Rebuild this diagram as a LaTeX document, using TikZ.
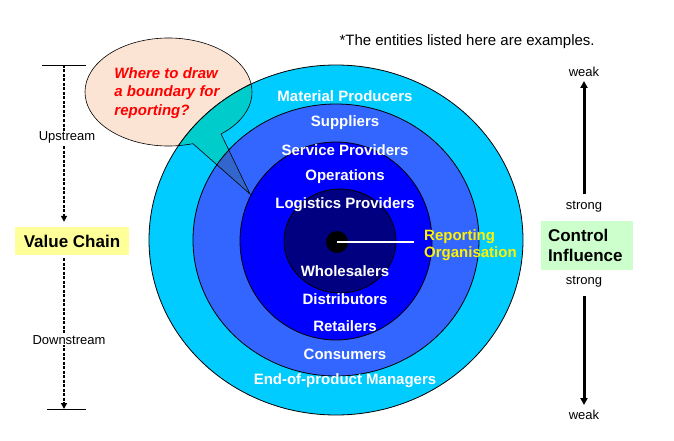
\documentclass[tikz,border=0pt]{standalone}
\usepackage{fontspec}
\setmainfont{Liberation Sans}
\usetikzlibrary{arrows.meta,positioning}

\definecolor{ringcyan}{HTML}{00CCFF}
\definecolor{ringmid}{HTML}{3366FF}
\definecolor{ringblue}{HTML}{0000FF}
\definecolor{ringnavy}{HTML}{000080}
\definecolor{calloutfill}{HTML}{FCE4D4}
\definecolor{overlapcyan}{HTML}{00CCCC}
\definecolor{overlapmid}{HTML}{3366CC}
\definecolor{chainyellow}{HTML}{FFFF99}
\definecolor{influencegreen}{HTML}{CCFFCC}

% callout outline: ellipse with a pointer towards the rings
\def\calloutpath{(168.5,92) ++(73:83.5 and 54)
  arc[start angle=73, end angle=411, x radius=83.5, y radius=54]
  -- (250,194) -- cycle}

\begin{document}
\begin{tikzpicture}[
      x=1pt, y=-1pt, % one unit = one pixel of the original, y downwards
      ring/.style={draw=black, line width=0.8pt},
      ring label/.style={text=white, font=\fontsize{15}{17}\selectfont\bfseries, inner sep=0pt},
      small label/.style={font=\fontsize{13}{15}\selectfont, inner sep=1pt},
      key box/.style={font=\fontsize{17}{20}\selectfont\bfseries, inner sep=0pt},
      chain arrow/.style={line width=1.6pt, dash pattern=on 3pt off 1.5pt,
        -{Triangle[length=6pt,width=6pt]}},
      influence arrow/.style={line width=3pt, -{Triangle[length=7pt,width=7pt]}}
    ]
    \useasboundingbox (0,0) rectangle (674,441);

    % Callout background
    \fill[calloutfill] \calloutpath;

    % Rings, outside in
    \filldraw[ring, fill=ringcyan] (336,240) ellipse [x radius=187, y radius=175];
    \filldraw[ring, fill=ringmid] (336,240) ellipse [x radius=143, y radius=136];
    \filldraw[ring, fill=ringblue] (336,241) ellipse [x radius=96, y radius=99];
    \filldraw[ring, fill=ringnavy] (340,241) ellipse [x radius=56, y radius=52];

    % Where the callout lies over the rings
    \begin{scope}
      \clip \calloutpath;
      \filldraw[ring, fill=overlapcyan] (336,240) ellipse [x radius=187, y radius=175];
      \filldraw[ring, fill=overlapmid] (336,240) ellipse [x radius=143, y radius=136];
    \end{scope}
    \draw[line width=0.6pt] \calloutpath;
    \node[text=red, font=\fontsize{15}{18.5}\selectfont\bfseries\itshape, align=left]
      (question) at (167,93) {Where to draw\\a boundary for\\reporting?};

    % Entities in the rings
    \foreach \txt/\y [count=\i] in {Material Producers/96, Suppliers/123,
        Service Providers/150, Operations/177, Logistics Providers/205,
        Wholesalers/271, Distributors/299, Retailers/326, Consumers/354,
        End-of-product Managers/381} {
      \node[ring label] (ring\i) at (345,\y) {\txt};
    }

    % Reporting organisation at the centre
    \node[circle, fill=black, minimum size=22pt, inner sep=0pt] (org) at (337,242) {};
    \node[text=yellow, font=\fontsize{15}{17}\selectfont\bfseries, align=left,
      inner sep=0pt, anchor=west] (report) at (424,245) {Reporting\\Organisation};
    \draw[white, line width=1.2pt, shorten >=10pt] (org.center) -- (org.center -| report.west);

    \node[font=\fontsize{15}{17}\selectfont, anchor=west] (note) at (336,42)
      {*The entities listed here are examples.};

    % Value chain, left
    \coordinate (vtop) at (64,65);
    \coordinate (vbottom) at (64,409);
    \node[key box, fill=chainyellow, minimum width=114pt, minimum height=28pt]
      (chain) at (72,241) {Value Chain};
    \draw[line width=0.8pt] ([xshift=-22pt]vtop) -- ([xshift=22pt]vtop);
    \draw[line width=0.8pt] ([xshift=-17pt]vbottom) -- ([xshift=22pt]vbottom);
    \draw[chain arrow, shorten >=5pt] (vtop) -- (vtop |- chain.north)
      node[small label, fill=white, pos=0.45, xshift=3pt] (upstream) {Upstream};
    \draw[chain arrow, shorten <=3pt] (vbottom |- chain.south) -- (vbottom)
      node[small label, fill=white, pos=0.55, xshift=5pt] (downstream) {Downstream};

    % Control influence, right
    \node[key box, fill=influencegreen, minimum width=92pt, minimum height=49pt,
      text width=78pt, align=left] (influence) at (587,245.5) {Control\\Influence};
    \node[small label] (weak1) at (584,72) {weak};
    \node[small label] (strong1) at (584,207) {strong};
    \node[small label] (strong2) at (584,282) {strong};
    \node[small label] (weak2) at (584,415) {weak};
    \draw[influence arrow, shorten <=6pt, shorten >=3pt] (strong1) -- (weak1);
    \draw[influence arrow, shorten <=7pt, shorten >=4pt] (strong2) -- (weak2);

  \end{tikzpicture}
\end{document}
